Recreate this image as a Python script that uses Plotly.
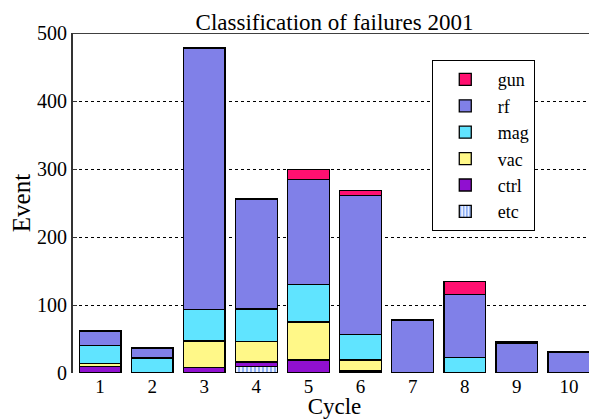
import plotly.graph_objects as go

cycles = [1, 2, 3, 4, 5, 6, 7, 8, 9, 10]
etc = [0, 0, 0, 10, 0, 0, 0, 0, 0, 0]
ctrl = [10, 0, 8, 6, 19, 3, 0, 0, 0, 0]
vac = [4, 0, 39, 30, 56, 16, 0, 0, 0, 0]
mag = [26, 22, 46, 48, 55, 38, 0, 23, 0, 0]
rf = [21, 14, 384, 162, 155, 204, 77, 92, 44, 31]
gun = [1.5, 1, 2, 1, 14, 7, 1, 20, 1.5, 0.5]

series = [
    ("etc", etc, "#ffffff"),
    ("ctrl", ctrl, "#9010d0"),
    ("vac", vac, "#fff888"),
    ("mag", mag, "#60e4ff"),
    ("rf", rf, "#8080e8"),
    ("gun", gun, "#ff1070"),
]

fig = go.Figure()
for name, vals, col in series:
    marker = dict(color=col, line=dict(color="black", width=1.3))
    if name == "etc":
        marker["pattern"] = dict(shape="|", fgcolor="#1f5fe8", bgcolor="white", size=4, solidity=0.6, fillmode="overlay")
    fig.add_trace(go.Bar(x=cycles, y=vals, name=name, marker=marker))

font = "Liberation Serif"
fig.update_layout(
    width=589, height=411, autosize=False,
    barmode="stack", bargap=0.2,
    plot_bgcolor="white", paper_bgcolor="white",
    margin=dict(l=65, r=1, t=25, b=46),
    font=dict(family=font, size=17, color="black"),
    title=dict(text="Classification of failures 2001", x=0.5, xref="paper", y=0.966, yanchor="middle",
               font=dict(family=font, size=23, color="black")),
    legend=dict(traceorder="reversed", x=0.686, y=0.92, xanchor="left", yanchor="top",
                bordercolor="black", borderwidth=1, bgcolor="white",
                font=dict(family=font, size=18), itemwidth=55),
    xaxis=dict(range=[0.48, 10.52], tickmode="array", tickvals=cycles, showgrid=False,
               ticks="", showline=False, zeroline=False,
               title=dict(text="Cycle", standoff=6, font=dict(family=font, size=23)),
               tickfont=dict(family=font, size=19)),
    yaxis=dict(range=[0, 500], tickvals=[0, 100, 200, 300, 400, 500], showgrid=True,
               gridcolor="black", griddash="dot", gridwidth=1, zeroline=False,
               showline=True, linecolor="#333333", linewidth=2, ticks="inside", ticklen=4,
               tickcolor="#333333",
               title=dict(text="Event", standoff=6, font=dict(family=font, size=25)),
               tickfont=dict(family=font, size=20)),
    shapes=[dict(type="line", xref="paper", yref="y", x0=0, x1=1, y0=500, y1=500,
                 line=dict(color="black", width=1.5))],
)

fig.write_html("out.html")
